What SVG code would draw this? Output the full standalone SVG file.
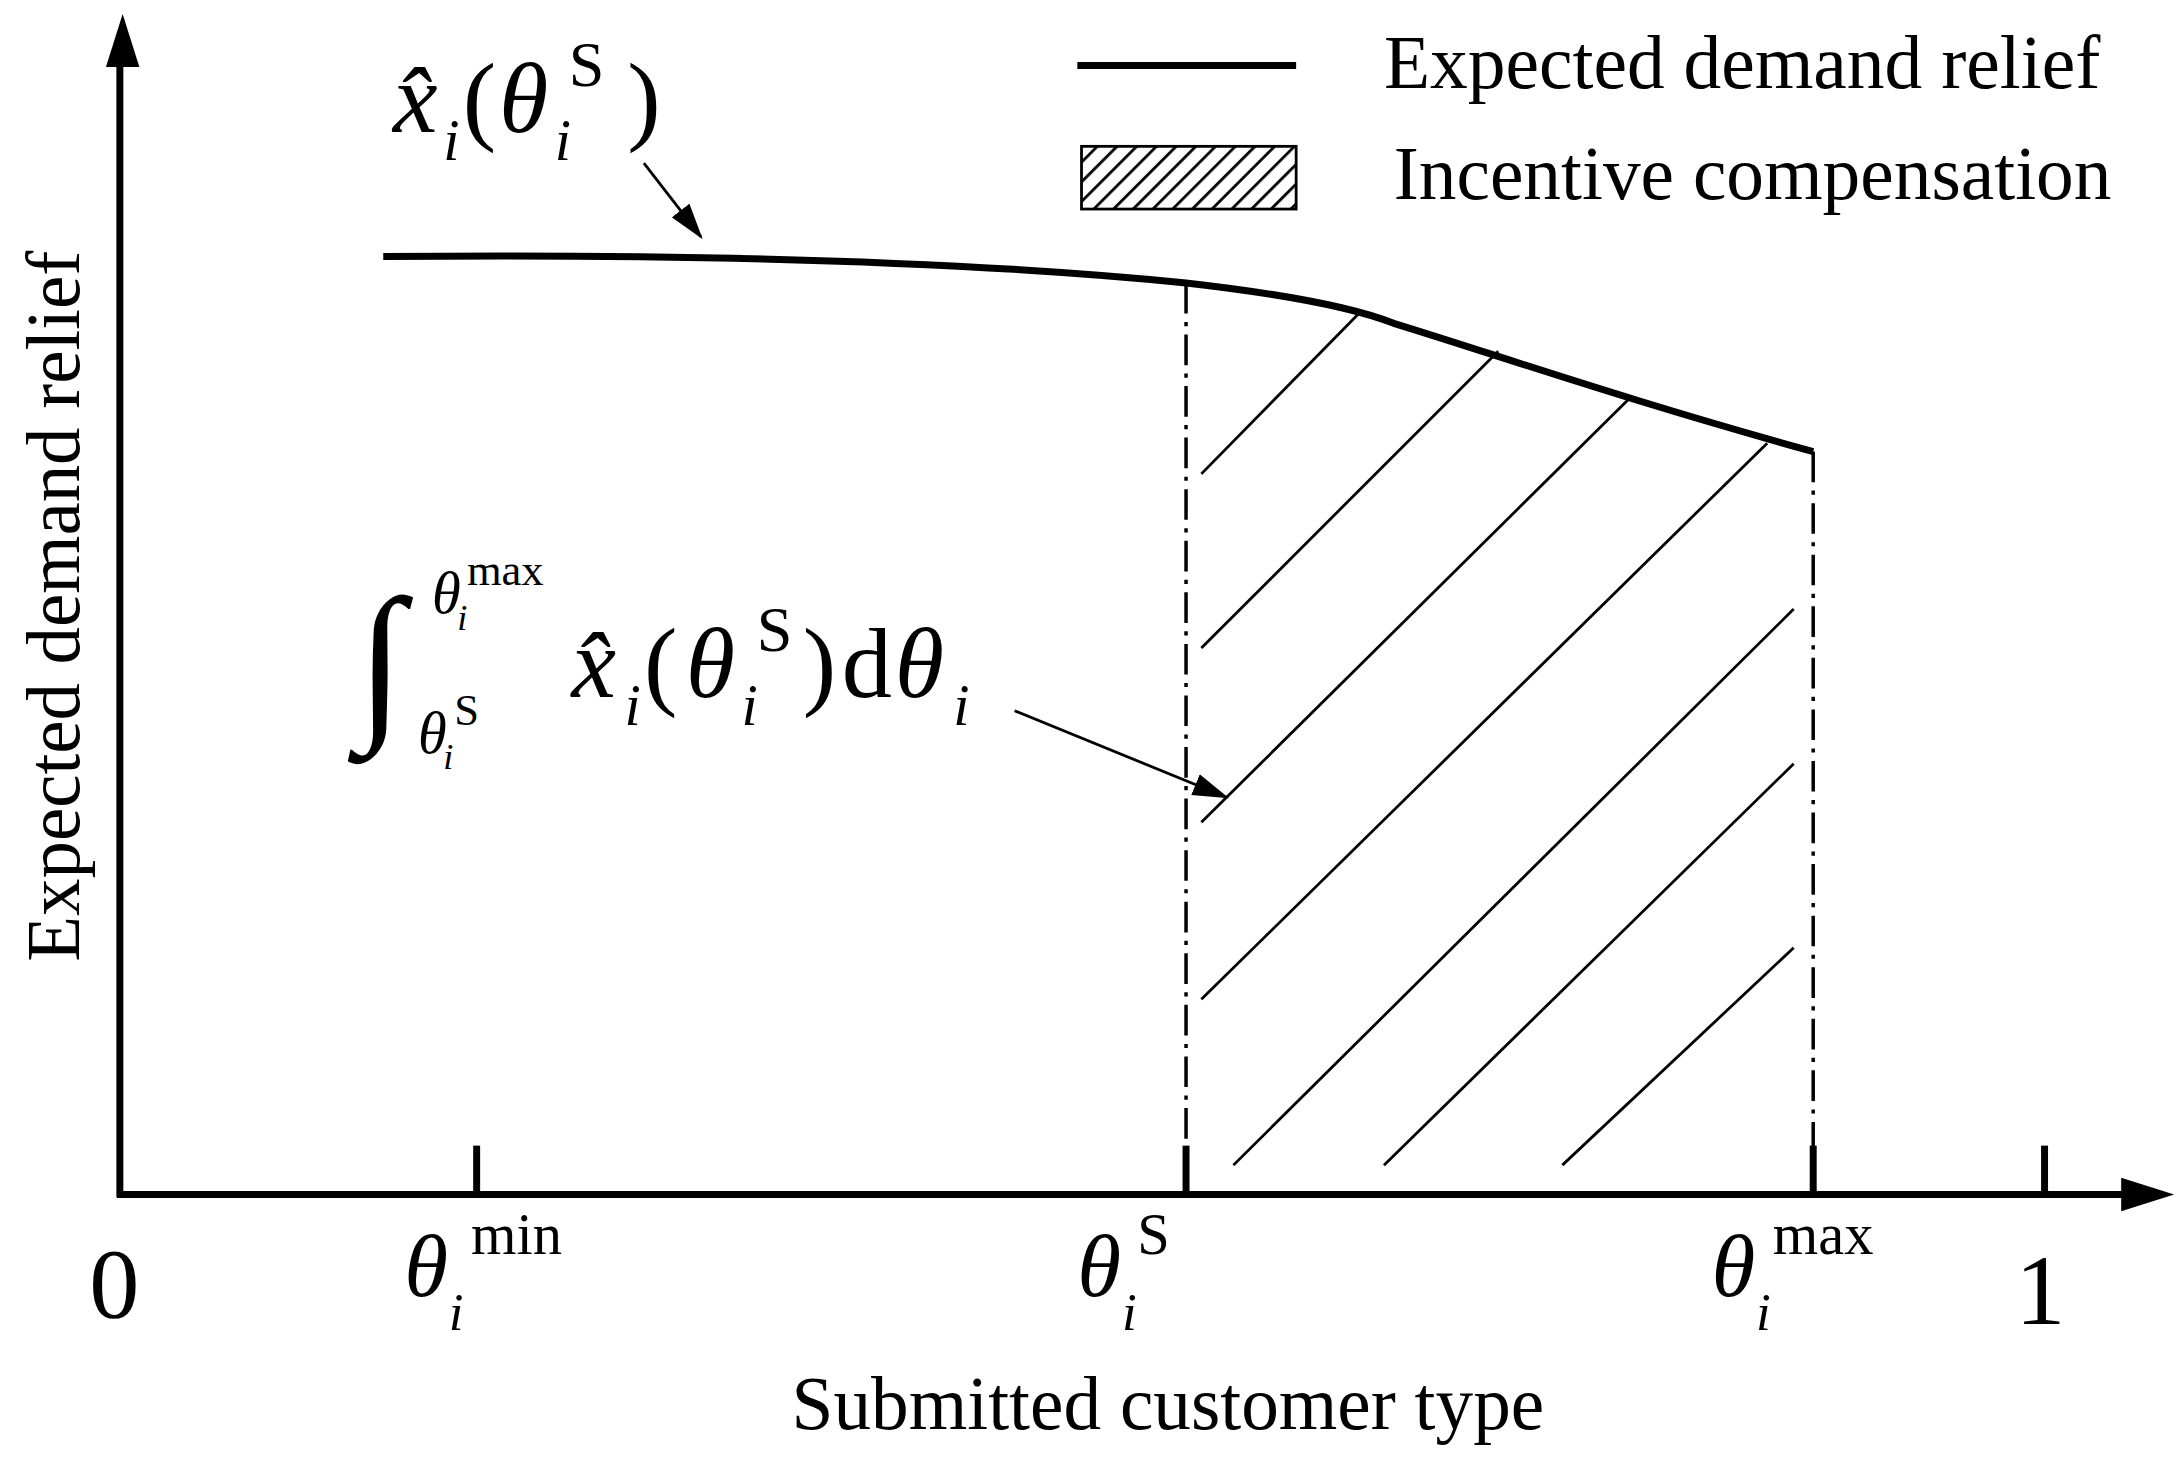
<svg xmlns="http://www.w3.org/2000/svg" width="2177" height="1462" viewBox="0 0 2177 1462">
<style>
.t{font-family:"Liberation Serif",serif;fill:#000}
.it{font-style:italic}
.ax{stroke:#000;stroke-width:5;fill:none}
.dd{stroke:#000;stroke-width:2.5;stroke-dasharray:22,6,3,6;fill:none}
.h{stroke:#000;stroke-width:2;fill:none}
</style>
<defs>
<marker id="ah" markerWidth="26" markerHeight="20" refX="24" refY="10" orient="auto" markerUnits="userSpaceOnUse" viewBox="0 0 26 20"><path d="M0,2 L26,10 L0,18 z" fill="#000"/></marker>
<pattern id="hp" width="10" height="10" patternUnits="userSpaceOnUse" patternTransform="rotate(45)"><rect width="10" height="10" fill="#fff"/><line x1="0" y1="0" x2="0" y2="10" stroke="#000" stroke-width="4"/></pattern>
</defs>
<rect width="2177" height="1462" fill="#fff"/>
<g transform="scale(1.3937)">
<g id="axes">
<line class="ax" x1="86" y1="859" x2="86" y2="40"/>
<path d="M76,48 L88,10 L100,48 z" fill="#000"/>
<line class="ax" x1="84" y1="857" x2="1530" y2="857"/>
<path d="M1522,845 L1560,857 L1522,869 z" fill="#000"/>
<g stroke="#000" stroke-width="5"><line x1="342" y1="822" x2="342" y2="857"/><line x1="851" y1="822" x2="851" y2="857"/><line x1="1301" y1="822" x2="1301" y2="857"/><line x1="1467" y1="822" x2="1467" y2="857"/></g>
</g>
<g id="curve"><path class="ax" d="M275,184 C500,182 700,188 851,203 C930,212 975,222 1000,232 C1075,255 1170,288 1301,324"/></g>
<g id="region">
<line class="dd" x1="851" y1="203" x2="851" y2="857"/>
<line class="dd" x1="1301" y1="324" x2="1301" y2="857"/>
<line class="h" x1="862" y1="340" x2="975" y2="225"/>
<line class="h" x1="862" y1="465" x2="1075" y2="252"/>
<line class="h" x1="862" y1="590" x2="1170" y2="285"/>
<line class="h" x1="862" y1="717" x2="1268" y2="318"/>
<line class="h" x1="885" y1="836" x2="1287" y2="437"/>
<line class="h" x1="993" y1="836" x2="1287" y2="548"/>
<line class="h" x1="1121" y1="836" x2="1287" y2="680"/>
</g>
<g id="connectors">
<line x1="462" y1="117" x2="503" y2="170" stroke="#000" stroke-width="2" marker-end="url(#ah)"/>
<line x1="728" y1="510" x2="880" y2="572" stroke="#000" stroke-width="2" marker-end="url(#ah)"/>
</g>
<g id="legend">
<line x1="773" y1="47" x2="930" y2="47" stroke="#000" stroke-width="5"/>
<rect x="776" y="105" width="154" height="45" fill="url(#hp)" stroke="#000" stroke-width="2"/>
<text class="t" x="993" y="63" font-size="54" textLength="514" lengthAdjust="spacingAndGlyphs">Expected demand relief</text>
<text class="t" x="1000" y="143" font-size="54" textLength="515" lengthAdjust="spacingAndGlyphs">Incentive compensation</text>
</g>
<g id="labels">
<text class="t" x="64" y="945" font-size="72">0</text>
<text class="t" x="1446" y="950" font-size="72">1</text>
<text class="t it" x="290" y="930" font-size="64">θ</text><text class="t it" x="322" y="954" font-size="38">i</text><text class="t" x="338" y="900" font-size="42">min</text>
<text class="t it" x="773" y="930" font-size="64">θ</text><text class="t it" x="805" y="954" font-size="38">i</text><text class="t" x="816" y="900" font-size="42">S</text>
<text class="t it" x="1228" y="930" font-size="64">θ</text><text class="t it" x="1260" y="954" font-size="38">i</text><text class="t" x="1272" y="900" font-size="42">max</text>
<text class="t" x="838" y="1025" font-size="54" text-anchor="middle" textLength="540" lengthAdjust="spacingAndGlyphs">Submitted customer type</text>
<text class="t" font-size="54" text-anchor="middle" textLength="510" lengthAdjust="spacingAndGlyphs" transform="translate(57,435) rotate(-90)">Expected demand relief</text>
<text class="t it" x="282" y="95" font-size="72">x̂</text><text class="t it" x="318" y="115" font-size="42">i</text><text class="t" x="332" y="95" font-size="72">(</text><text class="t it" x="358" y="95" font-size="72">θ</text><text class="t it" x="398" y="115" font-size="42">i</text><text class="t" x="408" y="62" font-size="46">S</text><text class="t" x="450" y="95" font-size="72">)</text>
<text class="t" x="256" y="515" font-size="124">∫</text>
<text class="t it" x="310" y="440" font-size="42">θ</text><text class="t it" x="328" y="452" font-size="26">i</text><text class="t" x="335" y="420" font-size="32">max</text>
<text class="t it" x="300" y="540" font-size="42">θ</text><text class="t it" x="318" y="552" font-size="26">i</text><text class="t" x="326" y="520" font-size="32">S</text>
<text class="t it" x="410" y="500" font-size="72">x̂</text><text class="t it" x="448" y="520" font-size="42">i</text><text class="t" x="462" y="500" font-size="72">(</text><text class="t it" x="492" y="500" font-size="72">θ</text><text class="t it" x="532" y="520" font-size="42">i</text><text class="t" x="543" y="467" font-size="46">S</text><text class="t" x="576" y="500" font-size="72">)</text><text class="t" x="604" y="500" font-size="72">d</text><text class="t it" x="642" y="500" font-size="72">θ</text><text class="t it" x="684" y="520" font-size="42">i</text>
</g>
</g>
</svg>
